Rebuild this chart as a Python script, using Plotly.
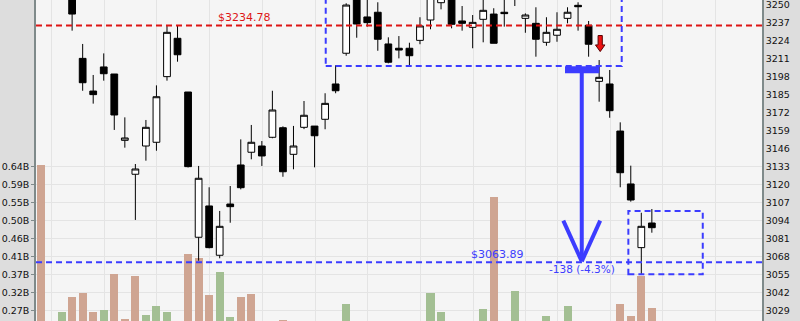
import plotly.graph_objects as go

# ---------------- data ----------------
slots = list(range(59))
opens = [3276, 3268, 3262, 3262, 3211.1, 3187.5, 3204.9, 3199.8, 3151.9, 3127.4,
         3147.8, 3150.5, 3197.9, 3225.6, 3186.8, 3081.9, 3104.5, 3068.9, 3105.9, 3134.1,
         3143.3, 3147.8, 3154.1, 3161.0, 3141.8, 3161.3, 3162.2, 3167.1, 3192.6, 3214.8,
         3262.0, 3241.0, 3244.4, 3221.5, 3218.4, 3218.4, 3224.1, 3238.8, 3251.3, 3260.0,
         3238.1, 3233.5, 3239.3, 3243.1, 3244.4, 3258.0, 3240.0, 3236.4, 3222.7, 3227.8,
         3240.0, 3249.4, 3235.0, 3194.5, 3192.6, 3158.6, 3120.4, 3074.4, 3092.2]
highs = [3282, 3274, 3272, 3268, 3221.5, 3199.1, 3214.7, 3199.8, 3168.5, 3134.8,
         3166.6, 3191.6, 3235.2, 3235.2, 3186.8, 3133.4, 3118.0, 3100.9, 3118.9, 3152.6,
         3163.0, 3151.4, 3187.7, 3162.0, 3162.3, 3180.3, 3162.2, 3185.9, 3206.1, 3250.9,
         3266.0, 3256.0, 3251.6, 3226.3, 3227.2, 3222.4, 3240.8, 3260.0, 3262.0, 3264.0,
         3248.9, 3242.4, 3254.0, 3247.3, 3255.0, 3266.0, 3243.6, 3248.0, 3240.8, 3244.4,
         3248.0, 3251.6, 3238.1, 3209.9, 3202.7, 3164.9, 3133.6, 3099.6, 3102.3]
lows = [3264, 3260, 3258, 3231.1, 3187.7, 3178.4, 3195.0, 3159.4, 3146.6, 3094.4,
        3137.2, 3144.4, 3195.0, 3208.7, 3132.3, 3065.0, 3073.9, 3066.7, 3092.4, 3116.5,
        3138.2, 3133.4, 3153.4, 3125.6, 3131.0, 3160.0, 3132.4, 3159.9, 3185.9, 3213.0,
        3226.0, 3234.0, 3216.6, 3207.5, 3211.1, 3205.8, 3221.3, 3232.1, 3246.5, 3232.8,
        3231.1, 3218.4, 3222.7, 3222.0, 3234.0, 3248.9, 3229.6, 3212.3, 3220.2, 3223.1,
        3236.4, 3231.1, 3212.3, 3179.8, 3168.2, 3118.0, 3107.6, 3054.6, 3085.2]
closes = [3268, 3263, 3268, 3243.1, 3193.5, 3184.9, 3200.0, 3170.2, 3153.6, 3131.2,
          3161.3, 3183.4, 3229.9, 3213.7, 3132.9, 3124.5, 3074.4, 3089.8, 3104.0, 3117.7,
          3150.5, 3140.6, 3173.8, 3129.2, 3147.8, 3170.0, 3155.2, 3178.6, 3187.7, 3249.6,
          3235.9, 3236.9, 3224.9, 3208.3, 3217.1, 3213.0, 3234.5, 3256.0, 3258.0, 3235.7,
          3236.4, 3237.1, 3245.8, 3222.0, 3243.4, 3262.0, 3242.4, 3224.9, 3229.9, 3232.1,
          3244.4, 3248.4, 3221.3, 3197.4, 3173.3, 3128.5, 3108.8, 3089.8, 3088.8]

# volume in billions; direction flag: 1 = up (green), 0 = down (rosy)
volumes = [0.644, 0.21, 0.266, 0.305, 0.316, 0.266, 0.271, 0.364, 0.248, 0.359,
           0.258, 0.282, 0.266, 0.22, 0.415, 0.406, 0.310, 0.369, 0.253, 0.305,
           0.312, 0.22, 0.22, 0.246, 0.20, 0.20, 0.20, 0.20, 0.20, 0.287,
           0.20, 0.20, 0.20, 0.20, 0.20, 0.20, 0.20, 0.315, 0.266, 0.20,
           0.20, 0.20, 0.274, 0.562, 0.20, 0.320, 0.20, 0.20, 0.256, 0.20,
           0.282, 0.20, 0.20, 0.20, 0.20, 0.287, 0.256, 0.359, 0.276]
vol_up = [0, 0, 1, 0, 0, 0, 1, 0, 0, 0,
          1, 1, 1, 0, 0, 0, 0, 1, 1, 0,
          0, 0, 1, 0, 1, 1, 0, 1, 0, 1,
          0, 0, 0, 0, 0, 0, 1, 1, 1, 0,
          0, 1, 1, 0, 0, 1, 1, 0, 1, 1,
          1, 1, 0, 0, 0, 0, 0, 0, 0]

price_ticks = [3029 + 13 * k for k in range(18)]
vol_tick_labels = ["0.27B", "0.32B", "0.37B", "0.41B", "0.46B", "0.50B", "0.55B", "0.59B", "0.64B"]
vol_tick_vals = [0.27 + 0.04625 * k for k in range(9)]
week_grid = [1, 6, 11, 16, 21, 26, 31, 36, 41, 46, 49, 54, 59, 64]

resistance = 3234.78
support = 3063.89
change_label = "-138 (-4.3%)"

# ---------------- styles ----------------
ROSY = "#cfa592"
GREEN = "#a3bf93"
BLUE = "#3c3cff"
RED = "#dd1515"
FONT = "DejaVu Sans"

vol_colors = [GREEN if u else ROSY for u in vol_up]

fig = go.Figure()
fig.add_trace(go.Bar(x=slots, y=volumes, marker=dict(color=vol_colors, line=dict(width=0)),
                     width=0.76, yaxis="y", hoverinfo="skip"))
fig.add_trace(go.Candlestick(
    x=slots, open=opens, high=highs, low=lows, close=closes, yaxis="y2",
    increasing=dict(line=dict(color="black", width=1), fillcolor="white"),
    decreasing=dict(line=dict(color="black", width=1), fillcolor="black"),
    whiskerwidth=0))

shapes = []
dash = "6px,4px"
shapes.append(dict(type="line", xref="paper", x0=0, x1=1, yref="y2", y0=resistance, y1=resistance,
                   line=dict(color=RED, width=2, dash=dash)))
shapes.append(dict(type="line", xref="paper", x0=0, x1=1, yref="y2", y0=support, y1=support,
                   line=dict(color=BLUE, width=2, dash=dash)))
# consolidation box and current box
shapes.append(dict(type="rect", xref="x", yref="y2", x0=27.06, x1=55.14, y0=3205.6, y1=3262,
                   line=dict(color=BLUE, width=2, dash=dash)))
shapes.append(dict(type="rect", xref="x", yref="y2", x0=55.77, x1=62.83, y0=3055.1, y1=3100.9,
                   line=dict(color=BLUE, width=2, dash=dash)))
# measured move arrow
shapes.append(dict(type="line", xref="x", yref="y2", x0=49.76, x1=53.02, y0=3202.9, y1=3202.9,
                   line=dict(color=BLUE, width=7)))
shapes.append(dict(type="line", xref="x", yref="y2", x0=51.35, x1=51.35, y0=3200.5, y1=3066,
                   line=dict(color=BLUE, width=4)))
shapes.append(dict(type="line", xref="x", yref="y2", x0=49.6, x1=51.35, y0=3093.9, y1=3064.5,
                   line=dict(color=BLUE, width=4)))
shapes.append(dict(type="line", xref="x", yref="y2", x0=53.1, x1=51.35, y0=3093.9, y1=3064.5,
                   line=dict(color=BLUE, width=4)))

# red down arrow (breakdown signal)
ax_c, sh, hw = 53.1, 0.2, 0.45
y_tail, y_base, y_tip = 3227.6, 3220.8, 3216.0
arrow_pts = [(ax_c - sh, y_tail), (ax_c + sh, y_tail), (ax_c + sh, y_base), (ax_c + hw, y_base),
             (ax_c, y_tip), (ax_c - hw, y_base), (ax_c - sh, y_base)]
path = "M " + " L ".join("%.3f,%.3f" % p for p in arrow_pts) + " Z"
shapes.append(dict(type="path", xref="x", yref="y2", path=path, fillcolor="#ee1111",
                   line=dict(color="#5a0000", width=1)))

annotations = [
    dict(x=19.33, y=3240.6, xref="x", yref="y2", text="$%.2f" % resistance, showarrow=False,
         font=dict(family=FONT, size=11, color=RED)),
    dict(x=43.36, y=3069.1, xref="x", yref="y2", text="$%.2f" % support, showarrow=False,
         font=dict(family=FONT, size=11, color=BLUE)),
    dict(x=51.4, y=3059.0, xref="x", yref="y2", text=change_label, showarrow=False,
         font=dict(family=FONT, size=10.5, color=BLUE)),
]

fig.update_layout(
    width=800, height=321,
    margin=dict(l=36, r=38, t=0, b=0, pad=0),
    paper_bgcolor="#dddddd", plot_bgcolor="#f5f5f5",
    showlegend=False, bargap=0, boxgap=0.36, boxgroupgap=0,
    shapes=shapes, annotations=annotations,
    xaxis=dict(range=[-0.427, 68.45], showticklabels=False, showgrid=True,
               gridcolor="#e4e4e4", gridwidth=1, tickvals=[g + 0.05 for g in week_grid],
               zeroline=False, rangeslider=dict(visible=False), fixedrange=True),
    yaxis=dict(range=[0.243, 1.0678], side="left", tickvals=vol_tick_vals, ticktext=vol_tick_labels,
               showgrid=True, gridcolor="#e4e4e4", gridwidth=1, zeroline=False,
               showline=True, linecolor="#7f8a8a", linewidth=1.5,
               ticks="outside", ticklen=3, tickcolor="#7f8a8a", ticklabeloverflow="allow",
               tickfont=dict(family=FONT, size=9.5, color="#111111")),
    yaxis2=dict(range=[3021.42, 3253.25], side="right", overlaying="y", tickvals=price_ticks,
                showgrid=False, zeroline=False, showline=True, linecolor="#7f8a8a", linewidth=1.5,
                ticks="", ticklabeloverflow="allow",
                tickfont=dict(family=FONT, size=9.5, color="#111111")),
)

fig.write_html("out.html")
